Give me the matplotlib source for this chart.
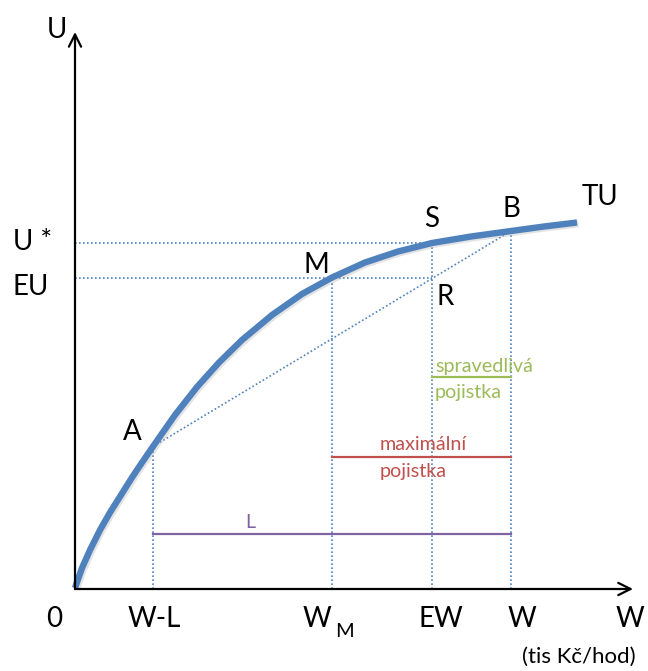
import matplotlib
matplotlib.use("Agg")
import matplotlib.pyplot as plt

plt.rcParams['font.family'] = ['Lato', 'DejaVu Sans']

# TU curve (W, U)
curve_w = [0, 7, 15, 25, 35, 46, 57, 67, 78, 100, 122, 144, 167, 197, 227, 257, 290, 323, 357, 396, 436, 469, 502]
curve_u = [1, 21, 39, 59, 76.5, 94, 111.5, 126.5, 142.5, 174, 202, 226.5, 249, 274, 295, 311.5, 326.5, 337.5, 346,
           352.5, 358, 362.5, 366.5]

# key wealth levels and utilities
w_minus_l = 78
w_m = 257
ew = 357
w_full = 436
u_a = 142.5
u_b = 358
u_star = 346
eu = 311.5

# premium / loss bars
fair_u = 212
max_u = 132
loss_u = 55

blue = '#4F81BD'
green = '#9BBB59'
red = '#C0504D'
purple = '#8064A2'
dot = (0, (1, 1.4))

fig = plt.figure(figsize=(6.48, 6.71), dpi=100)
ax = fig.add_axes([0, 0, 1, 1])
ax.set_xlim(-75, 573)
ax.set_ylim(-82, 589)
ax.axis('off')

# axes with arrows
ax.annotate('', xy=(0, 557), xytext=(0, 0),
            arrowprops=dict(arrowstyle='->', lw=1.6, color='black', mutation_scale=22, shrinkA=0, shrinkB=0))
ax.annotate('', xy=(558, 0), xytext=(0, 0),
            arrowprops=dict(arrowstyle='->', lw=1.6, color='black', mutation_scale=22, shrinkA=0, shrinkB=0))

# dotted guide lines
ax.plot([0, ew], [u_star, u_star], color=blue, lw=1.2, ls=dot)
ax.plot([0, ew], [eu, eu], color=blue, lw=1.2, ls=dot)
for xv, top in [(w_minus_l, u_a), (w_m, eu), (ew, u_star), (w_full, u_b)]:
    ax.plot([xv, xv], [0, top], color=blue, lw=1.2, ls=dot)
ax.plot([w_minus_l, w_full], [u_a, u_b], color=blue, lw=1.2, ls=dot)

# colored bars
ax.plot([ew, w_full], [fair_u, fair_u], color=green, lw=1.6)
ax.plot([w_m, w_full], [max_u, max_u], color=red, lw=1.6)
ax.plot([w_minus_l, w_full], [loss_u, loss_u], color=purple, lw=1.6)

# utility curve (soft shadow + line)
ax.plot([x + 1.5 for x in curve_w], [y - 1.5 for y in curve_u], color='#b0b0b0', lw=5, alpha=0.35,
        solid_capstyle='butt', solid_joinstyle='round')
ax.plot(curve_w, curve_u, color=blue, lw=4.6, solid_capstyle='butt', solid_joinstyle='round')

big = 20
small = 14.2
ax.text(-18, 551, 'U', fontsize=big, ha='center', va='baseline')
ax.text(-62, 339, 'U *', fontsize=big, ha='left', va='baseline')
ax.text(-62, 294, 'EU', fontsize=big, ha='left', va='baseline')
ax.text(-21, -38, '0', fontsize=big, ha='center', va='baseline')
ax.text(79, -38, 'W-L', fontsize=big, ha='center', va='baseline')
ax.text(242, -38, 'W', fontsize=big, ha='center', va='baseline')
ax.text(260, -48, 'M', fontsize=14.5, ha='left', va='baseline')
ax.text(366, -38, 'EW', fontsize=big, ha='center', va='baseline')
ax.text(447, -38, 'W', fontsize=big, ha='center', va='baseline')
ax.text(555, -38, 'W', fontsize=big, ha='center', va='baseline')
ax.text(504, -74, '(tis Kč/hod)', fontsize=16, ha='center', va='baseline')

ax.text(57, 149, 'A', fontsize=big, ha='center', va='baseline')
ax.text(241, 316, 'M', fontsize=big, ha='center', va='baseline')
ax.text(357, 362, 'S', fontsize=big, ha='center', va='baseline')
ax.text(436, 372, 'B', fontsize=big, ha='center', va='baseline')
ax.text(525, 384, 'TU', fontsize=big, ha='center', va='baseline')
ax.text(370, 284, 'R', fontsize=big, ha='center', va='baseline')

ax.text(360, 217, 'spravedlivá', fontsize=small, color=green, ha='left', va='baseline')
ax.text(360, 191, 'pojistka', fontsize=small, color=green, ha='left', va='baseline')
ax.text(305, 139, 'maximální', fontsize=small, color=red, ha='left', va='baseline')
ax.text(305, 112, 'pojistka', fontsize=small, color=red, ha='left', va='baseline')
ax.text(175, 61, 'L', fontsize=small, color=purple, ha='center', va='baseline')

fig.savefig('out.png', dpi=100)
